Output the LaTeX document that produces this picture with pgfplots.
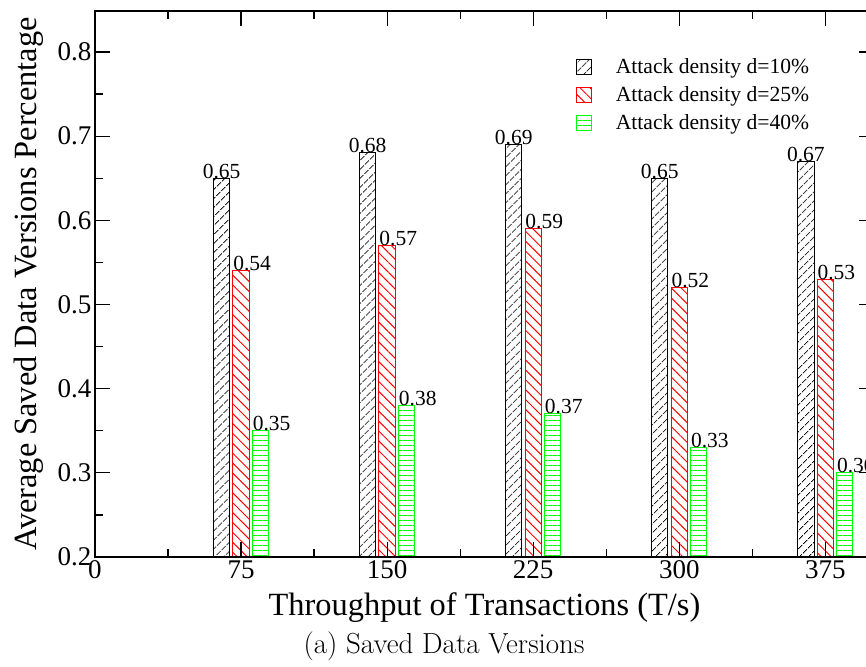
\documentclass[border=0pt]{standalone}
\usepackage{fontspec}
\newfontfamily\tnr{Liberation Serif}
\usepackage{pgfplots}
\pgfplotsset{compat=1.18}
\usetikzlibrary{patterns.meta}
\definecolor{pgreen}{RGB}{0,255,0}
\definecolor{pred}{RGB}{255,0,0}
\begin{document}
\begin{tikzpicture}
\begin{axis}[
  at={(0,0)}, anchor=south west,
  scale only axis, width=779pt, height=546pt,
  xmin=0, xmax=400, ymin=0.2, ymax=0.8487,
  axis on top,
  axis line style={line width=1.4pt},
  xtick={0,75,150,225,300,375},
  ytick={0.2,0.3,0.4,0.5,0.6,0.7,0.8},
  minor x tick num=1, minor y tick num=1,
  major tick length=15pt, minor tick length=8pt,
  every tick/.style={black, line width=1.2pt},
  tick align=inside,
  /pgf/number format/assume math mode=true,
  yticklabel style={/pgf/number format/.cd, fixed, precision=1, fixed zerofill},
  tick label style={font=\tnr\fontsize{27}{30}\selectfont},
  xlabel={Throughput of Transactions (T/s)},
  xlabel style={at={([yshift=-58pt]axis description cs:0.5,0)}, anchor=base, font=\tnr\fontsize{32.4}{34}\selectfont},
  ylabel={Average Saved Data Versions Percentage},
  ylabel style={at={([xshift=-58pt]axis description cs:0,0.5)}, anchor=base, font=\tnr\fontsize{32.4}{34}\selectfont},
  legend style={draw=none, fill=none, at={(0.617,0.914)}, anchor=north west,
    font=\tnr\fontsize{21.6}{24}\selectfont, row sep=8pt, column sep=24pt, inner sep=0pt,
    nodes={inner sep=0pt, text height=15pt, text depth=5pt, anchor=base west}},
  legend cell align=left,
  legend image code/.code={\draw[#1, line width=1pt] (0pt,-1pt) rectangle (15pt,14pt);},
  nodes near coords={\pgfmathprintnumber[fixed,precision=2,fixed zerofill]{\pgfplotspointmeta}},
  every node near coord/.append style={font=\tnr\fontsize{21.5}{22}\selectfont, inner sep=0pt, text=black},
]
\addplot[ybar, bar width=8.4, bar shift=0pt, draw=black, line width=1pt,
  pattern={Lines[angle=45,distance=6.5pt,line width=1pt]}, pattern color=black,
  every node near coord/.append style={anchor=base}]
  coordinates {(65,0.65) (140,0.68) (215,0.69) (290,0.65) (365,0.67)};
\addlegendentry{Attack density d=10\%}
\addplot[ybar, bar width=8.4, bar shift=0pt, draw=pred, line width=1pt,
  pattern={Lines[angle=-45,distance=7pt,line width=1pt]}, pattern color=pred,
  every node near coord/.append style={anchor=base west, xshift=-8.2pt}]
  coordinates {(75,0.54) (150,0.57) (225,0.59) (300,0.52) (375,0.53)};
\addlegendentry{Attack density d=25\%}
\addplot[ybar, bar width=8.4, bar shift=0pt, draw=pgreen, line width=1pt,
  pattern={Lines[angle=0,distance=5pt,line width=1pt]}, pattern color=pgreen,
  every node near coord/.append style={anchor=base west, xshift=-8.2pt}]
  coordinates {(85,0.35) (160,0.38) (235,0.37) (310,0.33) (385,0.30)};
\addlegendentry{Attack density d=40\%}
\end{axis}
\node[anchor=base, font=\fontsize{29}{31}\selectfont] at (349pt,-96pt) {(a) Saved Data Versions};
\pgfresetboundingbox
\path[use as bounding box] (-95pt,-109pt) rectangle (771pt,557pt);
\end{tikzpicture}
\end{document}
